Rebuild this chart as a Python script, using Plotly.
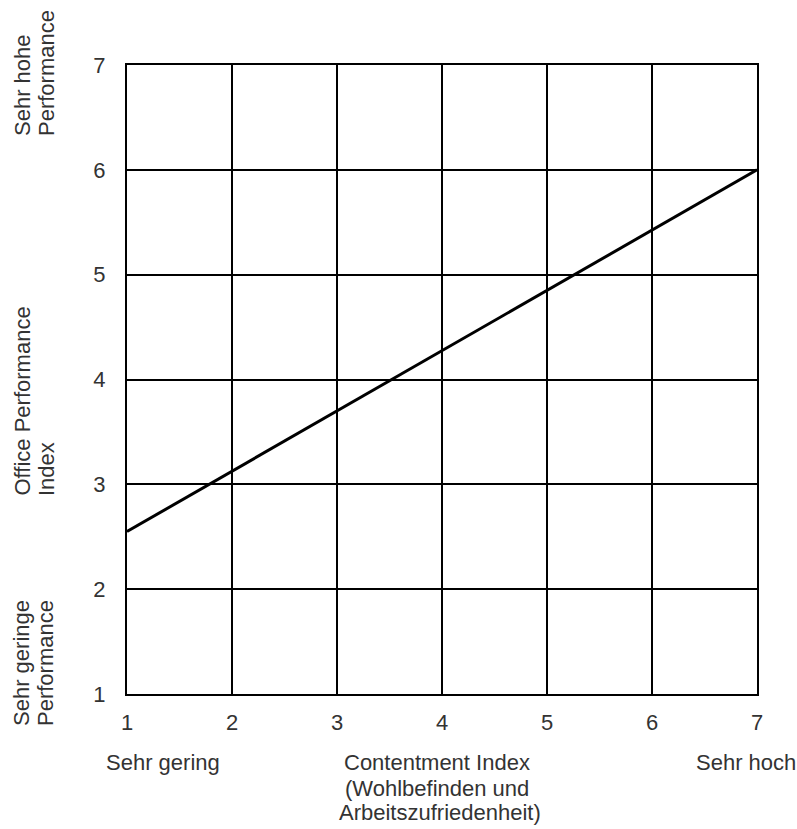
import plotly.graph_objects as go

# Data
contentment = [1, 7]
performance = [2.55, 6.0]
x_ticks = [1, 2, 3, 4, 5, 6, 7]
y_ticks = [1, 2, 3, 4, 5, 6, 7]

W, H = 797, 829
L, R, T, B = 127, 40, 65, 135
PW, PH = W - L - R, H - T - B

def px(xp):
    return (xp - L) / PW

def py(yp):
    return (H - B - yp) / PH

FONT = "Liberation Sans, Arial, sans-serif"
TXT = "#333333"
FS = 22

fig = go.Figure()
fig.add_trace(go.Scatter(x=contentment, y=performance, mode="lines",
                         line=dict(color="black", width=3), showlegend=False,
                         hoverinfo="skip"))

axis_common = dict(range=[1, 7], showgrid=True, gridcolor="black", gridwidth=1.6,
                   showline=True, linecolor="black", linewidth=2, mirror=True,
                   zeroline=False, ticks="", tickfont=dict(family=FONT, size=FS, color=TXT))

fig.update_xaxes(tickvals=x_ticks, ticktext=[str(v) for v in x_ticks],
                 ticklabelstandoff=8, **axis_common)
fig.update_yaxes(tickvals=y_ticks, ticktext=[str(v) for v in y_ticks],
                 ticklabelstandoff=15, **axis_common)

# rotated y-side labels: (text, x-centre px, bottom px)
y_labels = [
    ("Sehr hohe", 22, 138), ("Performance", 46, 138),
    ("Office Performance", 22, 498), ("Index", 46, 498),
    ("Sehr geringe", 22, 728), ("Performance", 46, 728),
]
for text, xc, yb in y_labels:
    fig.add_annotation(xref="paper", yref="paper", text=text, x=px(xc), y=py(yb),
                       xanchor="center", yanchor="bottom", textangle=-90,
                       showarrow=False, font=dict(family=FONT, size=FS, color=TXT))

# x-side labels: (text, x-centre px, y-centre px)
x_labels = [
    ("Sehr gering", 163, 763),
    ("Contentment Index", 437, 763),
    ("(Wohlbefinden und", 437, 788),
    ("Arbeitszufriedenheit)", 440, 812),
    ("Sehr hoch", 746, 763),
]
for text, xc, yc in x_labels:
    fig.add_annotation(xref="paper", yref="paper", text=text, x=px(xc), y=py(yc),
                       xanchor="center", yanchor="middle", showarrow=False,
                       font=dict(family=FONT, size=FS, color=TXT))

fig.update_layout(width=W, height=H, margin=dict(l=L, r=R, t=T, b=B),
                  plot_bgcolor="white", paper_bgcolor="white")

fig.write_html("out.html", config={"displayModeBar": False},
               post_script="document.body.style.margin='0';")
